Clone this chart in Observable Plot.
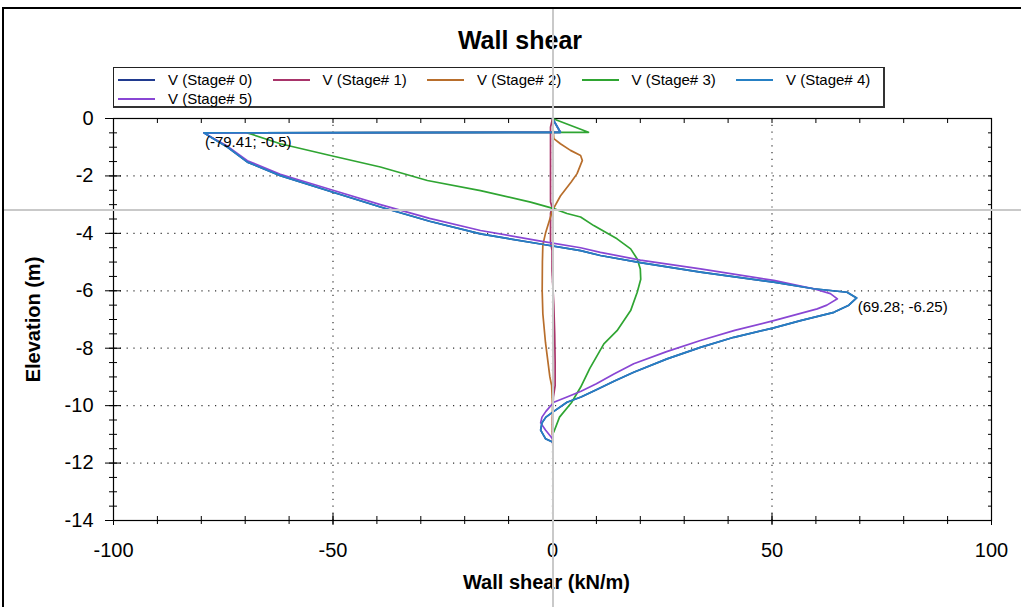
<!DOCTYPE html>
<html><head><meta charset="utf-8">
<script src="https://cdn.jsdelivr.net/npm/d3@7"></script>
<script src="https://cdn.jsdelivr.net/npm/@observablehq/plot@0.6"></script>
<style>
html,body{margin:0;padding:0;background:#fff;}
#root{position:relative;width:1021px;height:607px;overflow:hidden;background:#fff;}
#frame{position:absolute;left:2px;top:7px;right:-5px;bottom:-5px;border-left:2px solid #000;border-top:2px solid #000;}
#title{position:absolute;top:26px;left:520px;transform:translateX(-50%);font-weight:bold;font-size:25px;white-space:nowrap;}
#legend{position:absolute;left:113px;top:67px;width:769px;height:38px;border:1px solid #222;border-right:2px solid #333;border-bottom:2px solid #333;background:#fff;}
#legend .grid{display:grid;grid-template-columns:repeat(5,154.5px);grid-auto-rows:19px;margin-left:4px;margin-top:2px;}
#legend .item{display:flex;align-items:center;font-size:15px;white-space:nowrap;}
#legend svg{margin-right:13px;}
#plot{position:absolute;left:0;top:0;}
.cross{position:absolute;background:#c9c9c9;pointer-events:none;}
</style></head>
<body><div id="root"><div id="frame"></div><div id="plot"></div><div id="title">Wall shear</div><div id="legend"><div class="grid"></div></div></div>
<script>
// ---- data ----
const stageNames = ["V (Stage# 0)", "V (Stage# 1)", "V (Stage# 2)", "V (Stage# 3)", "V (Stage# 4)", "V (Stage# 5)"];
const stageColors = ["#203a8f", "#a8346a", "#b86e2c", "#2fa532", "#2680c4", "#8946d4"];

const shear0 = [0, 1.8, -79.41, -77.5, -74, -69.5, -62, -50, -39.2, -28, -16.4, -2.7, 6.4, 10.9, 20, 33.7, 50.4, 59.5, 67.1, 69.28, 67.5, 64.1, 56.5, 50.4, 41.3, 33.7, 26.1, 18.5, 14, 10, 6.5, 3.3, 0.3, -1.5, -2.4, -2.7, -1.6, 0];
const elev0  = [0, -0.48, -0.5, -0.68, -1.0, -1.52, -1.99, -2.57, -3.08, -3.58, -4.02, -4.37, -4.6, -4.77, -5.02, -5.35, -5.7, -5.93, -6.05, -6.25, -6.5, -6.75, -7.04, -7.29, -7.62, -7.97, -8.37, -8.84, -9.15, -9.45, -9.7, -9.88, -10.2, -10.4, -10.6, -10.85, -11.15, -11.27];

const shear1 = [0, -0.45, -0.45, -0.1, -0.45, -0.45, -0.1, -0.1, 0.3, 0.5, 0.6, 0.6, 0.2, 0, 0];
const elev1  = [0, -0.3, -2.9, -3.1, -3.3, -4.3, -4.6, -5.3, -6.5, -7.5, -8.5, -9.3, -9.7, -10.5, -11.3];

const shear2 = [0, 0.2, 0.3, 1.8, 4.1, 6.4, 6.8, 5.6, 4.3, 1.8, 0, -1.6, -2.2, -2.3, -2.35, -2.2, -1.6, -0.6, -0.2, 0, 0];
const elev2  = [0, -0.5, -0.7, -0.88, -1.11, -1.29, -1.46, -1.92, -2.2, -2.7, -3.2, -4.0, -4.4, -5.0, -6.0, -6.8, -7.8, -9.0, -9.3, -10.0, -11.0];

const shear3 = [0, 8.2, -69.5, -62, -50.6, -39.2, -28.5, -16.4, -5, 0.3, 3.3, 6.4, 9.4, 14.7, 17.8, 19.3, 20, 20.1, 19.3, 17.8, 14.7, 11.7, 8.5, 6.4, 4.3, 1.6, 0.3];
const elev3  = [0, -0.48, -0.5, -0.88, -1.29, -1.69, -2.16, -2.51, -2.91, -3.14, -3.31, -3.43, -3.73, -4.19, -4.54, -4.89, -5.24, -5.6, -6.05, -6.69, -7.39, -7.85, -8.7, -9.36, -9.9, -10.4, -10.92];

const shear4 = [0, 1.8, -79.41, -77.5, -74, -69.5, -62, -50, -39.2, -28, -16.4, -2.7, 6.4, 10.9, 20, 33.7, 50.4, 59.5, 67.1, 69.28, 67.5, 64.1, 56.5, 50.4, 41.3, 33.7, 26.1, 18.5, 14, 10, 6.5, 3.3, 0.3, -1.5, -2.4, -2.7, -1.6, 0];
const elev4  = [0, -0.48, -0.5, -0.68, -1.0, -1.52, -1.99, -2.57, -3.08, -3.58, -4.02, -4.37, -4.6, -4.77, -5.02, -5.35, -5.7, -5.93, -6.05, -6.25, -6.5, -6.75, -7.04, -7.29, -7.62, -7.97, -8.37, -8.84, -9.15, -9.45, -9.7, -9.88, -10.2, -10.4, -10.6, -10.85, -11.15, -11.27];

const shear5 = [0, 1.8, -79.41, -77.5, -74, -69.5, -62, -50, -39.2, -28, -16.4, -2.7, 6.4, 10.9, 20, 33.7, 50.4, 59.5, 63.3, 64.9, 62.5, 60.3, 50.4, 41.5, 33.7, 26, 18.5, 14, 10, 6.5, 3.3, 0.3, -1.5, -2.4, -2.7, -1.6, 0];
const elev5  = [0, -0.48, -0.5, -0.67, -0.97, -1.47, -1.94, -2.5, -3.0, -3.48, -3.9, -4.27, -4.5, -4.66, -4.93, -5.24, -5.64, -5.93, -6.1, -6.28, -6.5, -6.63, -7.04, -7.38, -7.73, -8.12, -8.54, -8.9, -9.24, -9.5, -9.7, -9.88, -10.2, -10.4, -10.6, -10.85, -11.15, -11.27];

const annoShear = [-79.41, 69.28];
const annoElev  = [-0.5, -6.25];
const annoText  = ["(-79.41; -0.5)", "(69.28; -6.25)"];

const xTickLabels = [-100, -50, 0, 50, 100];
const yTickLabels = [0, -2, -4, -6, -8, -10, -12, -14];
const xGridVals = [-50, 0, 50];
const yGridVals = [-2, -4, -6, -8, -10, -12];
const crossShear = [0];
const crossElev = [-3.22];

const titleText = "Wall shear";
const xLabel = "Wall shear (kN/m)";
const yLabel = "Elevation (m)";

// ---- build ----
const FONT = '"Liberation Sans", Arial, sans-serif';
document.getElementById("root").style.fontFamily = FONT;

const shears = [shear0, shear1, shear2, shear3, shear4, shear5];
const elevs = [elev0, elev1, elev2, elev3, elev4, elev5];
const series = shears.map((s, i) => s.map((v, j) => ({stage: stageNames[i], shear: v, elev: elevs[i][j]})));
const drawOrder = [0, 1, 2, 3, 5, 4];

const W = 1021, H = 607, ML = 113, MR = 30, MT = 118, MB = 87;
const PW = W - ML - MR, PH = H - MT - MB;

const xMinor = d3.range(-100, 100.001, 10);
const xMajor = xTickLabels;
const yMinor = d3.range(0, -14.001, -0.5);
const yMajor = yTickLabels;
const tf = d => String(d);

const plot = Plot.plot({
  width: W, height: H,
  marginLeft: ML, marginRight: MR, marginTop: MT, marginBottom: MB,
  x: {domain: [-100, 100]},
  y: {domain: [-14, 0]},
  style: {fontFamily: FONT, fontSize: "19px", color: "#000", background: "transparent", overflow: "visible"},
  marks: [
    Plot.gridX(xGridVals, {stroke: "#333", strokeOpacity: 1, strokeWidth: 1.2, strokeDasharray: "1.2,5.6"}),
    Plot.gridY(yGridVals, {stroke: "#333", strokeOpacity: 1, strokeWidth: 1.2, strokeDasharray: "1.2,5.6"}),
    // left ticks (crossing)
    Plot.tickY(yMinor, {y: d => d, stroke: "#000", insetLeft: -4, insetRight: PW - 4}),
    Plot.tickY(yMajor, {y: d => d, stroke: "#000", insetLeft: -8, insetRight: PW - 8}),
    // right ticks (inside)
    Plot.tickY(yMinor, {y: d => d, stroke: "#000", insetLeft: PW - 3, insetRight: 0}),
    // bottom ticks (crossing)
    Plot.tickX(xMinor, {x: d => d, stroke: "#000", insetTop: PH - 4, insetBottom: -4}),
    Plot.tickX(xMajor, {x: d => d, stroke: "#000", insetTop: PH - 7, insetBottom: -5}),
    // top ticks (inside)
    Plot.tickX(xMinor, {x: d => d, stroke: "#000", insetTop: 0, insetBottom: PH - 5}),
    Plot.frame({stroke: "#000", strokeWidth: 1.2}),
    Plot.axisX(xTickLabels, {tickSize: 0, tickPadding: 22, tickFormat: tf, fontSize: 20, label: null}),
    Plot.axisY(yTickLabels, {tickSize: 0, tickPadding: 20, tickFormat: tf, fontSize: 20, label: null}),
    ...drawOrder.map(i => Plot.line(series[i], {x: "shear", y: "elev", stroke: stageColors[i], strokeWidth: 1.7, curve: "linear"})),
    Plot.text(annoText, {x: (d, i) => annoShear[i], y: (d, i) => annoElev[i], text: d => d, textAnchor: "start", lineAnchor: "top", dx: 1, dy: 3, fontSize: 15, fill: "#000"}),
    Plot.text([yLabel], {frameAnchor: "left", text: d => d, textAnchor: "middle", lineAnchor: "middle", dx: -80, rotate: -90, fontSize: 20, fontWeight: "bold", fill: "#000"}),
    Plot.text([xLabel], {frameAnchor: "bottom", text: d => d, textAnchor: "middle", lineAnchor: "middle", dx: -6, dy: 62, fontSize: 20, fontWeight: "bold", fill: "#000"})
  ]
});
document.getElementById("plot").appendChild(plot);
document.getElementById("title").textContent = titleText;

// legend
const lg = document.querySelector("#legend .grid");
stageNames.forEach((n, i) => {
  const it = document.createElement("div");
  it.className = "item";
  it.innerHTML = `<svg width="37" height="4"><line x1="0" x2="37" y1="2" y2="2" stroke="${stageColors[i]}" stroke-width="2"/></svg><span>${n}</span>`;
  lg.appendChild(it);
});

// cursor crosshair
const root = document.getElementById("root");
const cx = plot.scale("x").apply(crossShear[0]);
const cy = plot.scale("y").apply(crossElev[0]);
const v = document.createElement("div"); v.className = "cross";
Object.assign(v.style, {left: (cx - 0.5) + "px", top: "9px", width: "2px", height: (H - 9) + "px"});
const h = document.createElement("div"); h.className = "cross";
Object.assign(h.style, {left: "4px", top: (cy - 1) + "px", width: (W - 4) + "px", height: "2px"});
root.appendChild(v); root.appendChild(h);
</script>
</body></html>
